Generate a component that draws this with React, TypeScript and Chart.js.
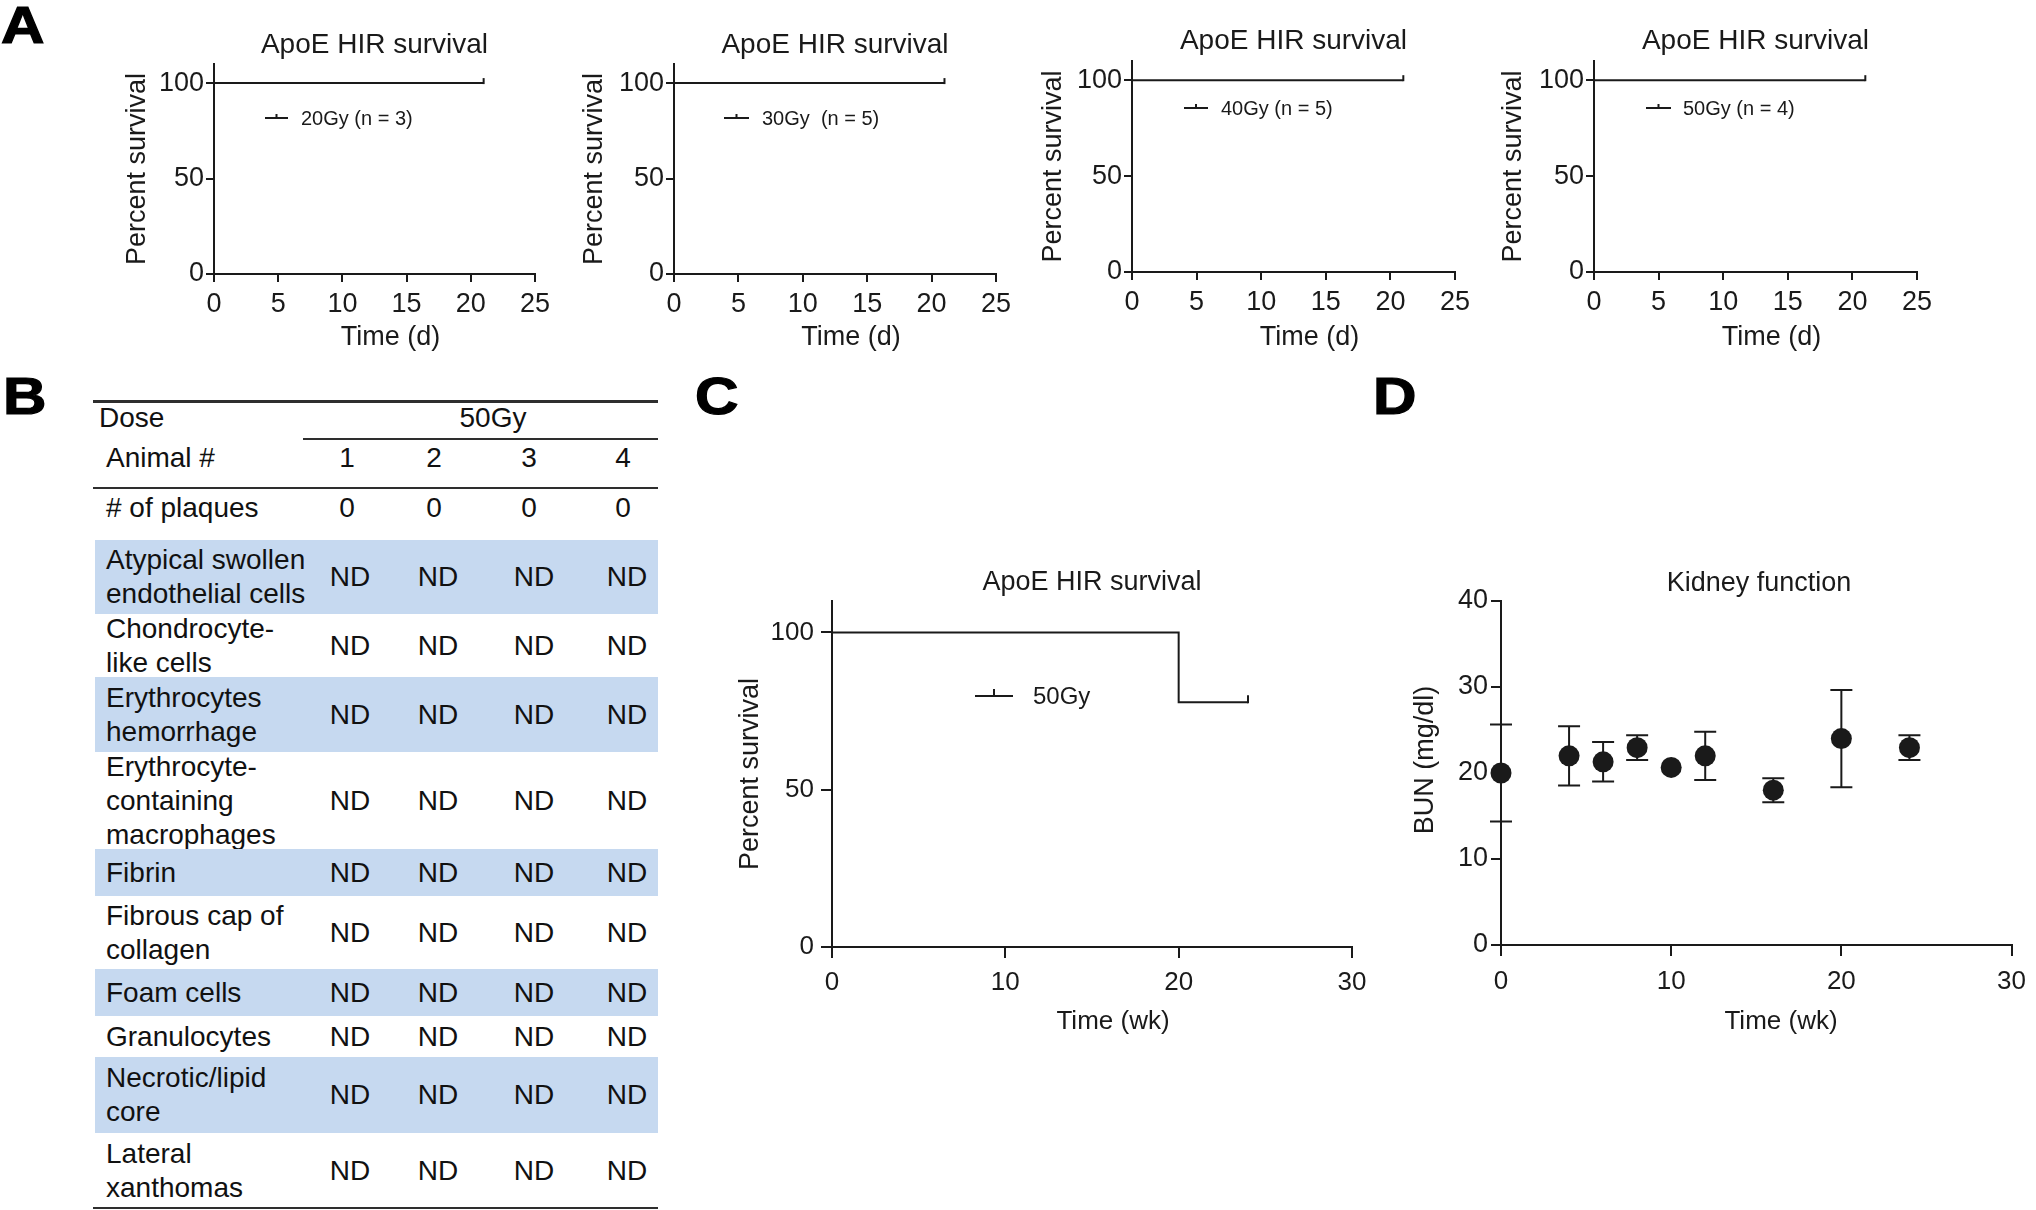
import React, { useEffect, useRef } from "react";
import { Chart, registerables } from "chart.js";

Chart.register(...registerables);

const FONT = "'Liberation Sans', Arial, Helvetica, sans-serif";
const INK = "#1a1a1a";

// ---------------- Panel A : survival after each dose ----------------
const panelATitle = "ApoE HIR survival";
const panelALegends = ["20Gy (n = 3)", "30Gy  (n = 5)", "40Gy (n = 5)", "50Gy (n = 4)"];
const panelATimes = [0, 21];
const panelASurvival = [100, 100];
const panelACensorTimes = [21];
const panelAXTicks = [0, 5, 10, 15, 20, 25];
const panelAXTitle = "Time (d)";
const survivalYTicks = [0, 50, 100];
const survivalYTitle = "Percent survival";

// ---------------- Panel C : long-term survival 50Gy ----------------
const panelCTitle = "ApoE HIR survival";
const panelCLegend = "50Gy";
const panelCTimes = [0, 20, 24];
const panelCSurvival = [100, 77.8, 77.8];
const panelCCensorTimes = [24];
const weekXTicks = [0, 10, 20, 30];
const weekXTitle = "Time (wk)";

// ---------------- Panel D : kidney function ----------------
const panelDTitle = "Kidney function";
const bunWeeks = [0, 4, 6, 8, 10, 12, 16, 20, 24];
const bunMean = [20.0, 22.0, 21.3, 22.95, 20.65, 22.0, 18.0, 24.0, 22.95];
const bunError = [5.65, 3.45, 2.3, 1.45, 0, 2.8, 1.4, 5.65, 1.45];
const bunYTicks = [0, 10, 20, 30, 40];
const bunYTitle = "BUN (mg/dl)";

// ---------------- Panel B : histology table ----------------
const tableDoseLabel = "Dose";
const tableDose = "50Gy";
const tableAnimalLabel = "Animal #";
const tableAnimals = ["1", "2", "3", "4"];
const tablePlaqueLabel = "# of plaques";
const tablePlaques = ["0", "0", "0", "0"];
const tableFeatures = [
  "Atypical swollen\nendothelial cells",
  "Chondrocyte-\nlike cells",
  "Erythrocytes\nhemorrhage",
  "Erythrocyte-\ncontaining\nmacrophages",
  "Fibrin",
  "Fibrous cap of\ncollagen",
  "Foam cells",
  "Granulocytes",
  "Necrotic/lipid\ncore",
  "Lateral\nxanthomas",
];
const tableResults = [
  ["ND", "ND", "ND", "ND"],
  ["ND", "ND", "ND", "ND"],
  ["ND", "ND", "ND", "ND"],
  ["ND", "ND", "ND", "ND"],
  ["ND", "ND", "ND", "ND"],
  ["ND", "ND", "ND", "ND"],
  ["ND", "ND", "ND", "ND"],
  ["ND", "ND", "ND", "ND"],
  ["ND", "ND", "ND", "ND"],
  ["ND", "ND", "ND", "ND"],
];

// ---------------- layout (page pixels) ----------------
type Geo = { x0: number; x1: number; yTop: number; yBot: number; cl: number; ct: number; cw: number; ch: number };

const A_LAYOUT = [
  { geo: { x0: 214, x1: 535, yTop: 64, yBot: 274, cl: 90, ct: 0, cw: 490, ch: 365 }, titleY: 45, yTitleX: 138, leg: { x1: 265, x2: 288, y: 118, tx: 301 } },
  { geo: { x0: 674, x1: 996, yTop: 64, yBot: 274, cl: 550, ct: 0, cw: 490, ch: 365 }, titleY: 45, yTitleX: 595, leg: { x1: 724, x2: 749, y: 118, tx: 762 } },
  { geo: { x0: 1132, x1: 1455, yTop: 61, yBot: 272, cl: 1010, ct: 0, cw: 490, ch: 365 }, titleY: 41, yTitleX: 1054, leg: { x1: 1184, x2: 1208, y: 108, tx: 1221 } },
  { geo: { x0: 1594, x1: 1917, yTop: 61, yBot: 272, cl: 1470, ct: 0, cw: 520, ch: 365 }, titleY: 41, yTitleX: 1514, leg: { x1: 1646, x2: 1671, y: 108, tx: 1683 } },
];
const GEO_C: Geo = { x0: 832, x1: 1352, yTop: 601, yBot: 947, cl: 700, ct: 560, cw: 690, ch: 490 };
const GEO_D: Geo = { x0: 1501, x1: 2020, yTop: 601, yBot: 945, cl: 1390, ct: 560, cw: 646, ch: 490 };

type TextSpec = { text: string; x: number; y: number; size: number; rotate?: boolean; align?: CanvasTextAlign };
type LegendSpec = { x1: number; x2: number; y: number; tickH: number; text: string; tx: number; size: number };
type DecorSpec = {
  texts: TextSpec[];
  legend?: LegendSpec;
  censor?: { times: number[]; surv: number[]; at: number[]; h: number };
  errors?: { xs: number[]; ys: number[]; errs: number[]; cap: number };
};

function makeDecor(geo: Geo, spec: DecorSpec) {
  const cx = (v: number) => v - geo.cl;
  const cy = (v: number) => v - geo.ct;
  return {
    id: "decor",
    beforeDatasetsDraw(chart: any) {
      if (!spec.errors) return;
      const { ctx } = chart;
      const xs = chart.scales.x;
      const ys = chart.scales.y;
      const e = spec.errors;
      ctx.save();
      ctx.strokeStyle = INK;
      ctx.lineWidth = 2;
      e.xs.forEach((xv, i) => {
        if (!(e.errs[i] > 0)) return;
        const px = xs.getPixelForValue(xv);
        const hi = ys.getPixelForValue(e.ys[i] + e.errs[i]);
        const lo = ys.getPixelForValue(e.ys[i] - e.errs[i]);
        ctx.beginPath();
        ctx.moveTo(px, hi);
        ctx.lineTo(px, lo);
        ctx.moveTo(px - e.cap, hi);
        ctx.lineTo(px + e.cap, hi);
        ctx.moveTo(px - e.cap, lo);
        ctx.lineTo(px + e.cap, lo);
        ctx.stroke();
      });
      ctx.restore();
    },
    afterDatasetsDraw(chart: any) {
      if (!spec.censor) return;
      const { ctx } = chart;
      const xs = chart.scales.x;
      const ys = chart.scales.y;
      const c = spec.censor;
      ctx.save();
      ctx.strokeStyle = INK;
      ctx.lineWidth = 2;
      c.at.forEach((t) => {
        let s = c.surv[0];
        c.times.forEach((tt, i) => {
          if (tt <= t) s = c.surv[i];
        });
        const px = xs.getPixelForValue(t);
        const py = ys.getPixelForValue(s);
        ctx.beginPath();
        ctx.moveTo(px, py + 1);
        ctx.lineTo(px, py - c.h);
        ctx.stroke();
      });
      ctx.restore();
    },
    afterDraw(chart: any) {
      const { ctx } = chart;
      ctx.save();
      ctx.fillStyle = INK;
      ctx.textBaseline = "middle";
      spec.texts.forEach((t) => {
        ctx.font = `${t.size}px ${FONT}`;
        ctx.textAlign = t.align || "center";
        if (t.rotate) {
          ctx.save();
          ctx.translate(cx(t.x), cy(t.y));
          ctx.rotate(-Math.PI / 2);
          ctx.fillText(t.text, 0, 0);
          ctx.restore();
        } else {
          ctx.fillText(t.text, cx(t.x), cy(t.y));
        }
      });
      const L = spec.legend;
      if (L) {
        ctx.strokeStyle = INK;
        ctx.lineWidth = 2;
        ctx.beginPath();
        ctx.moveTo(cx(L.x1), cy(L.y));
        ctx.lineTo(cx(L.x2), cy(L.y));
        const mid = (L.x1 + L.x2) / 2;
        ctx.moveTo(cx(mid), cy(L.y) + 1);
        ctx.lineTo(cx(mid), cy(L.y) - L.tickH);
        ctx.stroke();
        ctx.font = `${L.size}px ${FONT}`;
        ctx.textAlign = "left";
        ctx.fillText(L.text, cx(L.tx), cy(L.y) + 1);
      }
      ctx.restore();
    },
  };
}

function axis(geo: Geo, which: "x" | "y", ticks: number[], max: number, tickLen: number, size: number, pad: number) {
  return {
    type: "linear",
    position: which === "x" ? "bottom" : "left",
    min: 0,
    max,
    grid: {
      display: true,
      drawOnChartArea: false,
      drawTicks: true,
      tickLength: tickLen,
      tickWidth: 2,
      tickColor: INK,
      color: INK,
      lineWidth: 2,
    },
    border: { display: true, color: INK, width: 2 },
    ticks: { color: INK, font: { family: FONT, size }, padding: pad, autoSkip: false, maxRotation: 0 },
    afterBuildTicks: (s: any) => {
      s.ticks = ticks.map((v) => ({ value: v }));
    },
    afterFit: (s: any) => {
      if (which === "x") s.height = geo.ct + geo.ch - geo.yBot;
      else s.width = geo.x0 - geo.cl;
    },
  };
}

function baseOptions(geo: Geo, scales: any) {
  return {
    responsive: false,
    maintainAspectRatio: false,
    animation: false,
    events: [],
    layout: { padding: { left: 0, top: geo.yTop - geo.ct, right: geo.cl + geo.cw - geo.x1, bottom: 0 } },
    plugins: { legend: { display: false }, tooltip: { enabled: false }, title: { display: false } },
    scales,
  };
}

function buildA(i: number) {
  const { geo, titleY, yTitleX, leg } = A_LAYOUT[i];
  const midX = (geo.x0 + geo.x1) / 2;
  const midY = (geo.yTop + geo.yBot) / 2;
  return {
    type: "line",
    data: {
      datasets: [
        {
          data: panelATimes.map((t, k) => ({ x: t, y: panelASurvival[k] })),
          stepped: "before",
          borderColor: INK,
          borderWidth: 2,
          pointRadius: 0,
          fill: false,
        },
      ],
    },
    options: baseOptions(geo, {
      x: axis(geo, "x", panelAXTicks, 25, 8, 27, 6),
      y: axis(geo, "y", survivalYTicks, 110, 8, 27, 2),
    }),
    plugins: [
      makeDecor(geo, {
        texts: [
          { text: panelATitle, x: midX, y: titleY, size: 28 },
          { text: panelAXTitle, x: midX + 16, y: 338, size: 27 },
          { text: survivalYTitle, x: yTitleX, y: midY, size: 27, rotate: true },
        ],
        legend: { x1: leg.x1, x2: leg.x2, y: leg.y, tickH: 4, text: panelALegends[i], tx: leg.tx, size: 20 },
        censor: { times: panelATimes, surv: panelASurvival, at: panelACensorTimes, h: 5 },
      }),
    ],
  };
}

function buildC() {
  const geo = GEO_C;
  return {
    type: "line",
    data: {
      datasets: [
        {
          data: panelCTimes.map((t, k) => ({ x: t, y: panelCSurvival[k] })),
          stepped: "before",
          borderColor: INK,
          borderWidth: 2,
          pointRadius: 0,
          fill: false,
        },
      ],
    },
    options: baseOptions(geo, {
      x: axis(geo, "x", weekXTicks, 30, 11, 26, 9),
      y: axis(geo, "y", survivalYTicks, 110, 11, 26, 7),
    }),
    plugins: [
      makeDecor(geo, {
        texts: [
          { text: panelCTitle, x: 1092, y: 583, size: 27 },
          { text: weekXTitle, x: 1113, y: 1022, size: 26 },
          { text: survivalYTitle, x: 751, y: 774, size: 27, rotate: true },
        ],
        legend: { x1: 975, x2: 1013, y: 696, tickH: 7, text: panelCLegend, tx: 1033, size: 24 },
        censor: { times: panelCTimes, surv: panelCSurvival, at: panelCCensorTimes, h: 7 },
      }),
    ],
  };
}

function buildD() {
  const geo = GEO_D;
  return {
    type: "scatter",
    data: {
      datasets: [
        {
          data: bunWeeks.map((w, k) => ({ x: w, y: bunMean[k] })),
          pointRadius: 10.5,
          pointBackgroundColor: INK,
          pointBorderWidth: 0,
          pointBorderColor: INK,
          showLine: false,
          clip: false,
        },
      ],
    },
    options: baseOptions(geo, {
      x: axis(geo, "x", weekXTicks, 30, 11, 26, 10),
      y: axis(geo, "y", bunYTicks, 40, 10, 27, 3),
    }),
    plugins: [
      makeDecor(geo, {
        texts: [
          { text: panelDTitle, x: 1759, y: 584, size: 27 },
          { text: weekXTitle, x: 1781, y: 1022, size: 26 },
          { text: bunYTitle, x: 1426, y: 760, size: 27, rotate: true },
        ],
        errors: { xs: bunWeeks, ys: bunMean, errs: bunError, cap: 11 },
      }),
    ],
  };
}

function ChartCanvas({ geo, build }: { geo: Geo; build: () => any }) {
  const ref = useRef<HTMLCanvasElement | null>(null);
  useEffect(() => {
    if (!ref.current) return;
    const chart = new Chart(ref.current, build());
    return () => chart.destroy();
  }, [geo, build]);
  return (
    <div style={{ position: "absolute", left: geo.cl, top: geo.ct, width: geo.cw, height: geo.ch }}>
      <canvas ref={ref} width={geo.cw} height={geo.ch} style={{ width: geo.cw, height: geo.ch, display: "block" }} />
    </div>
  );
}

const buildA0 = () => buildA(0);
const buildA1 = () => buildA(1);
const buildA2 = () => buildA(2);
const buildA3 = () => buildA(3);
const A_BUILDERS = [buildA0, buildA1, buildA2, buildA3];

// ---------------- table B layout ----------------
const T_LEFT = 93;
const T_RIGHT = 658;
const BLUE_LEFT = 95;
const NUM_CENTERS = [347, 434, 529, 623];
const ND_CENTERS = [350, 438, 534, 627];
const ROW_START = 540;
const ROW_HEIGHTS = [74, 63, 75, 97, 47, 73, 47, 41, 76, 75];
const LINE_H = 34;
const RULE = "#2e2e2e";

function CellText({ text, cx, cy, left }: { text: string; cx?: number; cy: number; left?: number }) {
  const style: any = {
    position: "absolute",
    top: cy - LINE_H / 2,
    height: LINE_H,
    lineHeight: `${LINE_H}px`,
    fontSize: 28,
    whiteSpace: "nowrap",
  };
  if (left !== undefined) style.left = left;
  else {
    style.left = cx;
    style.transform = "translateX(-50%)";
  }
  return <div style={style}>{text}</div>;
}

function TableB() {
  let y = ROW_START;
  const rows = tableFeatures.map((label, i) => {
    const top = y;
    const h = ROW_HEIGHTS[i];
    y += h;
    return (
      <div
        key={label}
        style={{
          position: "absolute",
          left: BLUE_LEFT,
          top,
          width: T_RIGHT - BLUE_LEFT,
          height: h,
          background: i % 2 === 0 ? "#c6d9f0" : "transparent",
        }}
      >
        <div
          style={{
            position: "absolute",
            left: 106 - BLUE_LEFT,
            top: 0,
            height: h,
            display: "flex",
            alignItems: "center",
            whiteSpace: "pre",
            lineHeight: `${LINE_H}px`,
            fontSize: 28,
          }}
        >
          {label}
        </div>
        {tableResults[i].map((v, j) => (
          <div
            key={j}
            style={{
              position: "absolute",
              left: ND_CENTERS[j] - BLUE_LEFT,
              top: 0,
              height: h,
              display: "flex",
              alignItems: "center",
              transform: "translateX(-50%)",
              lineHeight: `${LINE_H}px`,
              fontSize: 28,
            }}
          >
            {v}
          </div>
        ))}
      </div>
    );
  });
  return (
    <div style={{ position: "absolute", left: 0, top: 0, width: 700, height: 1210, color: "#111" }}>
      <div style={{ position: "absolute", left: T_LEFT, top: 400, width: T_RIGHT - T_LEFT, height: 2.5, background: RULE }} />
      <CellText text={tableDoseLabel} left={99} cy={418} />
      <CellText text={tableDose} cx={493} cy={418} />
      <div style={{ position: "absolute", left: 303, top: 438, width: T_RIGHT - 303, height: 2, background: RULE }} />
      <CellText text={tableAnimalLabel} left={106} cy={458} />
      {tableAnimals.map((a, j) => (
        <CellText key={"a" + j} text={a} cx={NUM_CENTERS[j]} cy={458} />
      ))}
      <div style={{ position: "absolute", left: T_LEFT, top: 486.5, width: T_RIGHT - T_LEFT, height: 2.5, background: RULE }} />
      <CellText text={tablePlaqueLabel} left={106} cy={508} />
      {tablePlaques.map((p, j) => (
        <CellText key={"p" + j} text={p} cx={NUM_CENTERS[j]} cy={508} />
      ))}
      {rows}
      <div style={{ position: "absolute", left: T_LEFT, top: 1206.5, width: T_RIGHT - T_LEFT, height: 2.5, background: RULE }} />
    </div>
  );
}

function PanelLabel({ text, left, top }: { text: string; left: number; top: number }) {
  return (
    <div
      style={{
        position: "absolute",
        left,
        top,
        fontSize: 51,
        fontWeight: "bold",
        lineHeight: 1,
        color: "#000",
        transform: "scaleX(1.18)",
        transformOrigin: "left top",
        WebkitTextStroke: "1.2px #000",
      }}
    >
      {text}
    </div>
  );
}

export default function App() {
  return (
    <div
      style={{
        position: "fixed",
        left: 0,
        top: 0,
        width: 2036,
        height: 1210,
        background: "#fff",
        overflow: "hidden",
        fontFamily: FONT,
        color: INK,
      }}
    >
      <TableB />
      {A_LAYOUT.map((a, i) => (
        <ChartCanvas key={i} geo={a.geo} build={A_BUILDERS[i]} />
      ))}
      <ChartCanvas geo={GEO_C} build={buildC} />
      <ChartCanvas geo={GEO_D} build={buildD} />
      <PanelLabel text="A" left={1} top={0} />
      <PanelLabel text="B" left={3} top={371} />
      <PanelLabel text="C" left={695} top={371} />
      <PanelLabel text="D" left={1373} top={371} />
    </div>
  );
}
